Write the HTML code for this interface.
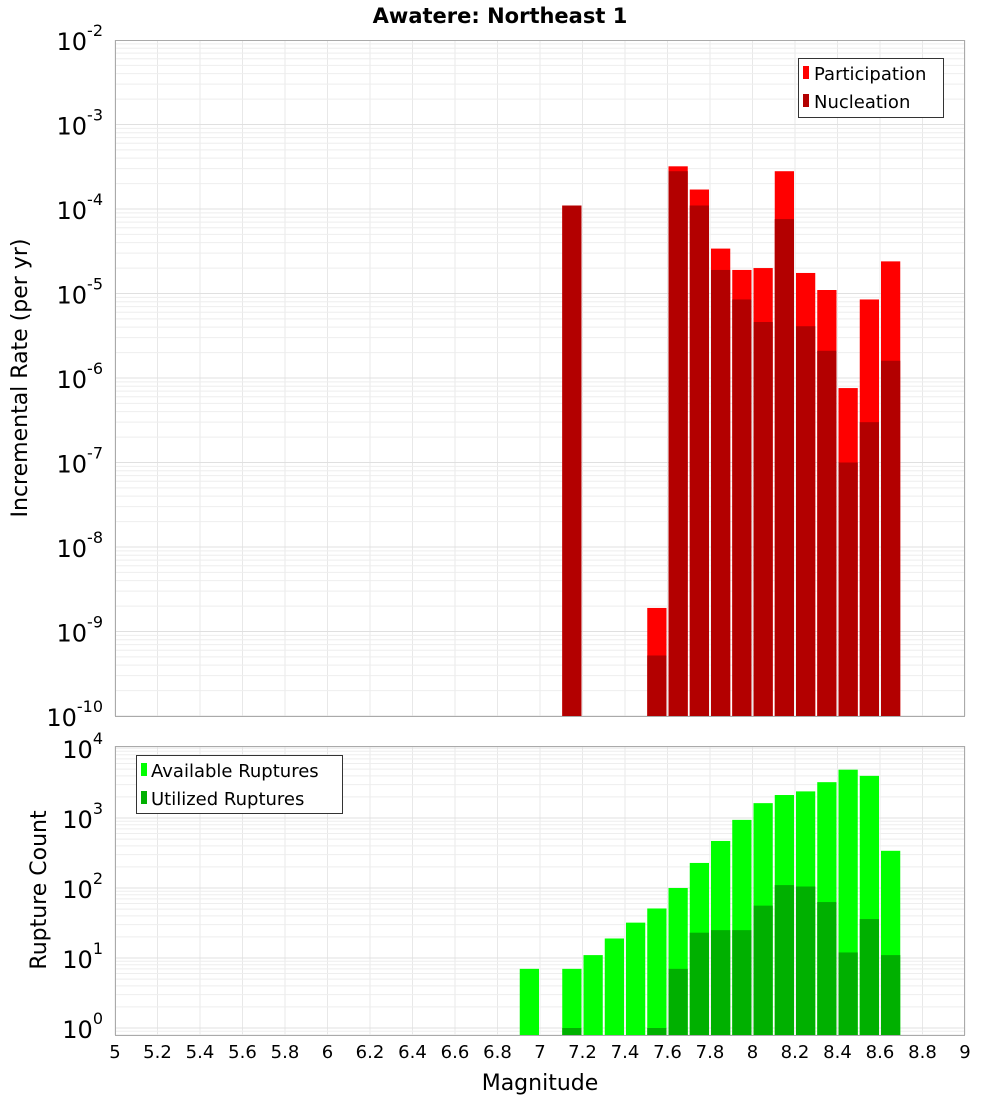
<!DOCTYPE html>
<html><head><meta charset="utf-8"><style>
body{margin:0;background:#fff}
svg{display:block;font-family:"DejaVu Sans","Liberation Sans",sans-serif}
</style></head><body>
<svg id="c" width="1000" height="1100">
<text x="500" y="23" text-anchor="middle" font-size="21" font-weight="bold">Awatere: Northeast 1</text>
<g id="grid"></g><g id="bars"></g><g id="axes"></g>
<text transform="translate(27,378) rotate(-90)" text-anchor="middle" font-size="22">Incremental Rate (per yr)</text>
<text transform="translate(46,890) rotate(-90)" text-anchor="middle" font-size="22">Rupture Count</text>
<text x="540" y="1090" text-anchor="middle" font-size="22">Magnitude</text>
<g>
<rect x="798.5" y="58.5" width="145" height="59" fill="#fff" stroke="#333"/>
<rect x="803" y="66" width="6" height="13" fill="#ff0000"/>
<text x="814" y="80" font-size="18">Participation</text>
<rect x="803" y="94" width="6" height="13" fill="#b30000"/>
<text x="814" y="108" font-size="18">Nucleation</text>
</g>
<g>
<rect x="136.5" y="755.5" width="206" height="58" fill="#fff" stroke="#333"/>
<rect x="141" y="763" width="6" height="13" fill="#00ff00"/>
<text x="151" y="777" font-size="18">Available Ruptures</text>
<rect x="141" y="791" width="6" height="13" fill="#00b000"/>
<text x="151" y="805" font-size="18">Utilized Ruptures</text>
</g>
</svg>
<script>
const mags=[6.95,7.15,7.25,7.35,7.45,7.55,7.65,7.75,7.85,7.95,8.05,8.15,8.25,8.35,8.45,8.55,8.65];
const available=[7,7,11,19,32,51,100,228,470,940,1630,2130,2400,3250,4900,4000,340];
const utilized=[0,1,0,0,0,1,7,23,25,25,56,110,105,63,12,36,11];
const rateMags=[7.15,7.55,7.65,7.75,7.85,7.95,8.05,8.15,8.25,8.35,8.45,8.55,8.65];
const participation=[1.1e-4,1.9e-9,3.2e-4,1.7e-4,3.4e-5,1.9e-5,2.0e-5,2.8e-4,1.75e-5,1.1e-5,7.6e-7,8.5e-6,2.4e-5];
const nucleation=[1.1e-4,5.2e-10,2.8e-4,1.1e-4,1.9e-5,8.5e-6,4.6e-6,7.6e-5,4.1e-6,2.1e-6,1.0e-7,3.0e-7,1.6e-6];
const xTicks=[5,5.2,5.4,5.6,5.8,6,6.2,6.4,6.6,6.8,7,7.2,7.4,7.6,7.8,8,8.2,8.4,8.6,8.8,9];
const topExps=[-2,-3,-4,-5,-6,-7,-8,-9,-10];
const botExps=[0,1,2,3,4];
const NS='http://www.w3.org/2000/svg';
const X0=115,X1=965;
const x=m=>X0+(m-5)*(X1-X0)/4;
const T0=40,T1=716;
const yTop=v=>T0+(-2-Math.log10(v))*84.5;
const B0=746,B1=1035;
const yBot=v=>1028-Math.log10(v)*70;
function el(p,tag,a){const e=document.createElementNS(NS,tag);for(const k in a)e.setAttribute(k,a[k]);p.appendChild(e);return e;}
const grid=document.getElementById('grid'),bars=document.getElementById('bars'),axes=document.getElementById('axes');
// backgrounds
el(grid,'rect',{x:X0,y:T0,width:X1-X0,height:T1-T0,fill:'#fff'});
// grids
for(const t of xTicks){const xx=x(t);
 el(grid,'line',{x1:xx,x2:xx,y1:T0,y2:T1,stroke:'#e8e8e8'});
 el(grid,'line',{x1:xx,x2:xx,y1:B0,y2:B1,stroke:'#e8e8e8'});}
for(let k=-10;k<-2;k++)for(let j=1;j<10;j++){const yy=yTop(j*Math.pow(10,k));
 el(grid,'line',{x1:X0,x2:X1,y1:yy,y2:yy,stroke:j==1?'#e0e0e0':'#eeeeee'});}
for(let k=-1;k<5;k++)for(let j=1;j<10;j++){const yy=yBot(j*Math.pow(10,k));if(yy<B0||yy>B1)continue;
 el(grid,'line',{x1:X0,x2:X1,y1:yy,y2:yy,stroke:j==1?'#e0e0e0':'#eeeeee'});}
// top bars
rateMags.forEach((m,i)=>{
 const l=x(m-0.05)+1,w=x(m+0.05)-1-l;
 let b=el(bars,'rect',{x:l,y:yTop(participation[i]),width:w,height:T1-yTop(participation[i]),fill:'#ff0000'});
 
 
 b=el(bars,'rect',{x:l,y:yTop(nucleation[i]),width:w,height:T1-yTop(nucleation[i]),fill:'#b30000'});
 
 
});
mags.forEach((m,i)=>{
 const l=x(m-0.05)+1,w=x(m+0.05)-1-l;
 let b=el(bars,'rect',{x:l,y:yBot(available[i]),width:w,height:B1-yBot(available[i]),fill:'#00ff00'});
 
 
 if(utilized[i]>0){const yy=Math.min(yBot(utilized[i]),B1-2);
 b=el(bars,'rect',{x:l,y:yy,width:w,height:B1-yy,fill:'#00b000'});
 
 }
});
// frames
el(axes,'rect',{x:X0+0.5,y:T0+0.5,width:X1-X0-1,height:T1-T0,fill:'none',stroke:'#aaa'});
el(axes,'rect',{x:X0+0.5,y:B0+0.5,width:X1-X0-1,height:B1-B0,fill:'none',stroke:'#aaa'});
function expLabel(yy,e,name){
 const t=el(axes,'text',{x:103,y:yy+10,'text-anchor':'end','font-size':24});
 
 
 const a=document.createElementNS(NS,'tspan');a.textContent='10';t.appendChild(a);
 const s=document.createElementNS(NS,'tspan');s.setAttribute('dy','-14');s.setAttribute('font-size','16');s.textContent=String(e);t.appendChild(s);
}
topExps.forEach(e=>expLabel(yTop(Math.pow(10,e)),e,'top-y-tick-label'));
botExps.forEach(e=>expLabel(yBot(Math.pow(10,e)),e,'bottom-y-tick-label'));
xTicks.forEach(t=>{const tx=el(axes,'text',{x:x(t),y:1058,'text-anchor':'middle','font-size':18});
 
 
 tx.textContent=String(t);});
</script>
</body></html>
